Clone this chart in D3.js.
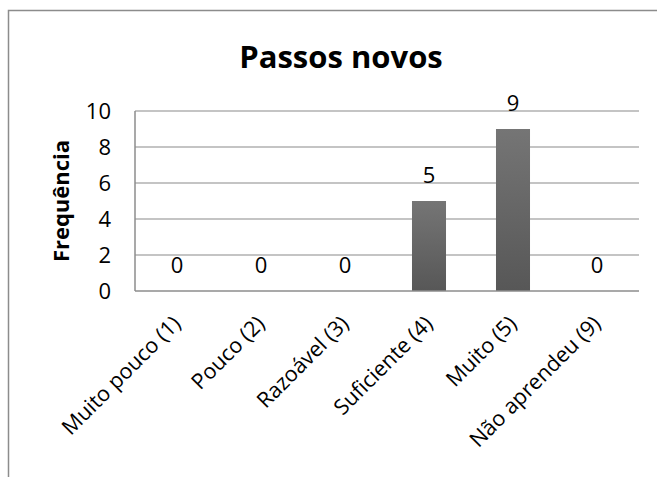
<!DOCTYPE html>
<html>
<head>
<meta charset="utf-8">
<script src="https://cdn.jsdelivr.net/npm/d3@7"></script>
<style>
  html, body { margin: 0; padding: 0; background: #fff; }
  svg { display: block; font-family: "Open Sans", sans-serif; }
</style>
</head>
<body>
<svg id="chart" width="657" height="477"></svg>
<script>
// Respostas por nível de aprendizagem
const categories = ["Muito pouco (1)", "Pouco (2)", "Razoável (3)", "Suficiente (4)", "Muito (5)", "Não aprendeu (9)"];
const frequencies = [0, 0, 0, 5, 9, 0];
const yTicks = [0, 2, 4, 6, 8, 10];
const chartTitle = "Passos novos";
const yTitle = "Frequência";

const svg = d3.select("#chart");
const W = 657, H = 477;
const plot = { left: 135, right: 639, top: 111, bottom: 291 };
const FONT = "Open Sans, sans-serif";

// Chart frame
svg.append("rect")
  .attr("x", 8.5).attr("y", 10.5)
  .attr("width", W + 20).attr("height", H + 20)
  .attr("fill", "#fff").attr("stroke", "#8c8c8c").attr("stroke-width", 1.5);

const defs = svg.append("defs");
const grad = defs.append("linearGradient")
  .attr("id", "barFill").attr("x1", 0).attr("y1", 0).attr("x2", 0).attr("y2", 1);
grad.append("stop").attr("offset", "0%").attr("stop-color", "#757575");
grad.append("stop").attr("offset", "100%").attr("stop-color", "#575757");

const x = d3.scaleBand().domain(categories).range([plot.left, plot.right]).paddingInner(0.595).paddingOuter(0.2975);
const y = d3.scaleLinear().domain([0, 10]).range([plot.bottom, plot.top]);

// Gridlines
svg.append("g").selectAll("line").data(yTicks.filter(d => d > 0)).join("line")
  .attr("x1", plot.left).attr("x2", plot.right)
  .attr("y1", d => y(d)).attr("y2", d => y(d))
  .attr("stroke", "#b0b0b0").attr("stroke-width", 1.5);

// Bars
svg.append("g").selectAll("rect").data(frequencies).join("rect")
  .attr("x", (d, i) => x(categories[i]))
  .attr("y", d => y(d))
  .attr("width", x.bandwidth())
  .attr("height", d => y(0) - y(d))
  .attr("fill", "url(#barFill)");

// Axis lines
svg.append("line").attr("x1", plot.left).attr("x2", plot.left)
  .attr("y1", plot.top).attr("y2", plot.bottom)
  .attr("stroke", "#8c8c8c").attr("stroke-width", 1.5);
svg.append("line").attr("x1", plot.left).attr("x2", plot.right)
  .attr("y1", plot.bottom).attr("y2", plot.bottom)
  .attr("stroke", "#8c8c8c").attr("stroke-width", 1.5);

// Y tick labels
const yAxis = d3.axisLeft(y).tickValues(yTicks).tickSize(0).tickPadding(24);
const gy = svg.append("g").attr("transform", `translate(${plot.left},0)`).call(yAxis);
gy.select(".domain").remove();
gy.selectAll("text").attr("font-size", 22).attr("fill", "#000").attr("font-family", FONT);

// X tick labels, rotated
const xAxis = d3.axisBottom(x).tickSize(0).tickPadding(0);
const gx = svg.append("g").attr("transform", `translate(0,${plot.bottom})`).call(xAxis);
gx.select(".domain").remove();
gx.selectAll("text")
  .attr("font-size", 21.5).attr("fill", "#000").attr("font-family", FONT)
  .attr("text-anchor", "end")
  .attr("dy", "0")
  .attr("transform", "translate(5,34) rotate(-45)");

// Value labels
svg.append("g").selectAll("text").data(frequencies).join("text")
  .attr("x", (d, i) => x(categories[i]) + x.bandwidth() / 2)
  .attr("y", d => y(d) - 18.5)
  .attr("text-anchor", "middle")
  .attr("font-size", 22).attr("fill", "#000").attr("font-family", FONT)
  .text(d => d);

// Title
svg.append("text").attr("x", 341).attr("y", 68)
  .attr("text-anchor", "middle").attr("font-size", 31).attr("font-weight", "bold")
  .attr("font-family", FONT)
  .text(chartTitle);

// Y axis title
svg.append("text")
  .attr("transform", `translate(69,${(plot.top + plot.bottom) / 2}) rotate(-90)`)
  .attr("text-anchor", "middle").attr("font-size", 22).attr("font-weight", "bold")
  .attr("font-family", FONT)
  .text(yTitle);
</script>
</body>
</html>
